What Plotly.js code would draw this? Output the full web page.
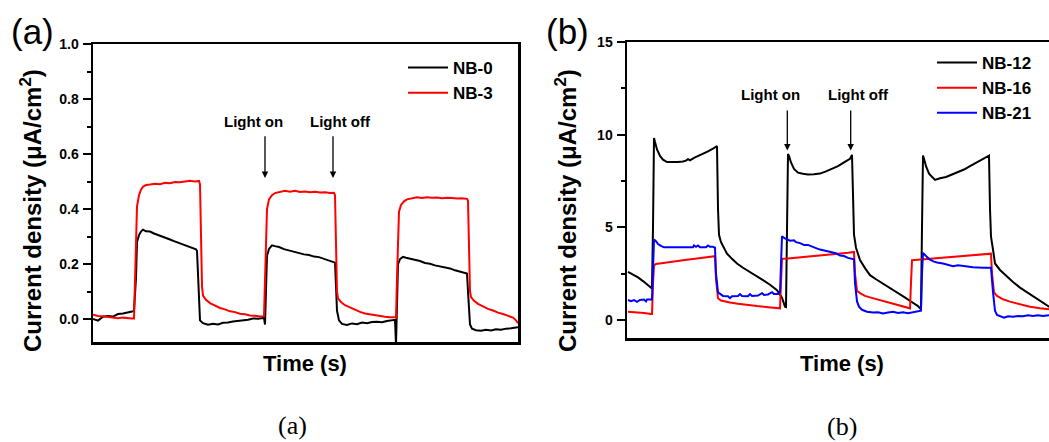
<!DOCTYPE html>
<html>
<head>
<meta charset="utf-8">
<script src="https://cdn.plot.ly/plotly-3.0.1.min.js"></script>
<style>
html, body { margin: 0; padding: 0; background: #fff; overflow: hidden; }
#chart { width: 1049px; height: 442px; }
</style>
</head>
<body>
<div id="chart"></div>
<script>
// ---------- Panel (a) data ----------
const nb0_t = [0,5,10,15,20,25,30,35,39,41,43,44,46,48,50,53,57,61,65,69,73,77,81,85,89,93,97,101,103,104,105,106,107,110,115,120,125,130,135,140,145,150,155,160,165,170,171,172,173,174,176,179,182,186,191,196,201,206,211,216,221,226,231,236,240,242,243,244,246,249,254,259,264,269,274,279,284,289,294,299,302,303,304,305,307,310,313,317,322,327,332,337,342,347,352,357,362,367,371,373,374,375,376,377,379,383,388,393,398,403,408,413,418,423,425];
const nb0_y = [0.000,-0.006,0.008,0.011,0.009,0.018,0.020,0.023,0.027,0.030,0.15,0.28,0.305,0.318,0.325,0.319,0.318,0.311,0.306,0.301,0.295,0.289,0.283,0.278,0.271,0.268,0.262,0.257,0.253,0.248,0.15,0.04,-0.005,-0.015,-0.021,-0.017,-0.020,-0.014,-0.013,-0.009,-0.007,-0.004,-0.003,0.002,0.001,0.004,0.004,-0.020,0.12,0.23,0.255,0.268,0.265,0.262,0.254,0.249,0.243,0.240,0.235,0.233,0.227,0.225,0.219,0.215,0.209,0.205,0.12,0.03,-0.005,-0.018,-0.022,-0.016,-0.019,-0.013,-0.015,-0.011,-0.010,-0.012,-0.007,-0.005,-0.003,-0.095,0.10,0.20,0.218,0.226,0.223,0.220,0.214,0.211,0.204,0.201,0.195,0.192,0.187,0.184,0.177,0.173,0.168,0.166,0.165,0.10,0.02,-0.020,-0.035,-0.041,-0.043,-0.039,-0.042,-0.037,-0.039,-0.035,-0.034,-0.031,-0.030];

const nb3_t = [0,5,10,15,20,25,30,35,39,41,42,43,44,46,48,50,53,57,62,67,72,77,82,87,92,97,102,106,107,108,109,110,113,117,122,127,132,137,142,147,152,157,162,167,171,172,173,174,176,179,182,187,192,197,202,207,212,217,222,227,232,237,241,242,243,244,245,248,252,257,262,267,272,277,282,287,292,297,302,303,304,305,306,308,311,314,319,324,329,334,339,344,349,354,359,364,369,374,375,376,377,378,381,385,390,395,400,405,410,415,420,423,425];
const nb3_y = [0.016,0.011,0.010,0.007,0.006,0.003,0.005,0.002,0.002,0.002,0.15,0.33,0.41,0.45,0.470,0.481,0.487,0.489,0.492,0.490,0.495,0.494,0.498,0.497,0.501,0.503,0.500,0.502,0.49,0.30,0.12,0.085,0.070,0.058,0.049,0.040,0.035,0.028,0.025,0.019,0.017,0.013,0.012,0.009,0.010,0.15,0.32,0.40,0.435,0.450,0.458,0.463,0.466,0.463,0.466,0.462,0.464,0.461,0.463,0.460,0.461,0.458,0.459,0.45,0.25,0.10,0.075,0.062,0.050,0.041,0.032,0.026,0.020,0.017,0.012,0.010,0.008,0.006,0.007,0.006,0.15,0.32,0.39,0.415,0.428,0.435,0.440,0.443,0.440,0.443,0.441,0.442,0.439,0.441,0.440,0.438,0.439,0.437,0.43,0.25,0.10,0.080,0.066,0.055,0.046,0.037,0.031,0.023,0.018,0.011,0.005,-0.005,-0.015];

// ---------- Panel (b) data ----------
const nb12_t = [0,5,10,15,20,24,25,26,27,29,32,35,39,45,50,55,58,60,62,66,70,75,80,85,88,89,90,91,93,96,99,104,109,115,122,128,135,142,149,154,157,158,159,160,161,163,166,170,175,180,186,192,198,204,210,216,222,224,225,226,228,232,237,242,248,255,262,269,276,283,290,292,293,294,295,296,298,301,304,307,312,318,324,330,336,342,348,354,360,361,362,363,365,367,372,379,385,392,399,405,409,415,421,425];
const nb12_y = [2.60,2.45,2.30,2.10,1.90,1.70,5.0,9.82,9.6,9.2,8.85,8.65,8.52,8.50,8.52,8.55,8.60,8.68,8.62,8.75,8.85,8.95,9.10,9.25,9.35,9.38,6.0,4.6,4.2,3.85,3.58,3.30,3.05,2.82,2.60,2.40,2.15,1.90,1.61,1.20,0.72,0.70,5.0,8.96,8.85,8.5,8.15,7.95,7.89,7.85,7.86,7.90,8.02,8.15,8.30,8.50,8.70,8.91,6.0,4.6,3.9,3.23,2.80,2.42,2.20,1.97,1.75,1.50,1.25,1.00,0.75,0.63,0.62,5.0,8.87,8.7,8.3,7.9,7.7,7.56,7.65,7.72,7.85,7.97,8.12,8.30,8.47,8.65,8.85,8.87,6.0,4.5,3.8,3.05,2.70,2.33,2.05,1.75,1.50,1.28,1.16,0.95,0.72,0.62];

const nb16_t = [0,8,16,23,24,25,26,28,35,45,55,65,75,85,87,88,90,93,98,102,110,120,129,140,152,153,154,160,170,180,190,200,210,220,226,227,229,232,237,242,250,262,272,282,283,284,290,300,310,320,330,340,350,360,363,364,366,369,375,382,392,402,412,421,425];
const nb16_y = [0.45,0.42,0.38,0.32,0.32,2.0,2.95,3.02,3.08,3.15,3.22,3.29,3.35,3.42,3.44,2.2,1.17,1.05,0.98,0.95,0.88,0.80,0.75,0.69,0.63,2.0,3.30,3.32,3.38,3.42,3.47,3.52,3.58,3.63,3.67,2.5,1.58,1.45,1.30,1.22,1.10,0.90,0.78,0.63,2.0,3.23,3.25,3.29,3.33,3.38,3.42,3.46,3.50,3.55,3.58,2.5,1.49,1.30,1.12,0.99,0.85,0.72,0.63,0.57,0.55];

const nb21_t = [0,3,6,9,12,16,18,19,24,25,26,28,30,33,36,45,60,65,66,68,70,72,78,80,82,85,87,88,90,92,95,100,102,104,110,112,114,120,122,124,130,134,136,140,144,146,150,152,153,154,157,160,162,166,168,172,176,180,184,188,192,196,200,204,208,212,216,220,224,226,227,229,231,234,239,245,250,255,260,265,270,275,280,285,290,293,294,295,298,302,306,309,315,320,325,330,335,345,355,363,365,367,369,373,376,380,385,390,395,400,405,410,415,421,425];
const nb21_y = [1.08,1.02,1.08,0.98,1.08,1.10,1.00,1.10,1.10,3.0,4.34,4.25,4.10,4.00,3.92,3.92,3.92,3.92,4.02,3.95,4.02,3.92,3.92,4.02,3.95,3.95,3.90,2.5,1.49,1.40,1.30,1.28,1.18,1.28,1.30,1.40,1.30,1.28,1.40,1.30,1.32,1.45,1.35,1.38,1.50,1.40,1.40,1.50,3.0,4.52,4.40,4.35,4.28,4.30,4.20,4.15,4.05,4.05,3.95,3.88,3.80,3.75,3.70,3.65,3.60,3.48,3.45,3.35,3.30,3.28,2.0,1.0,0.72,0.55,0.45,0.40,0.42,0.35,0.40,0.45,0.38,0.42,0.36,0.40,0.45,0.50,2.5,3.62,3.45,3.25,3.15,3.10,3.05,2.98,2.90,2.95,2.91,2.85,2.82,2.82,1.5,0.50,0.27,0.20,0.12,0.20,0.18,0.22,0.20,0.25,0.22,0.25,0.22,0.25,0.24];

const namesA = ['NB-0', 'NB-3'];
const namesB = ['NB-12', 'NB-16', 'NB-21'];
const ticksA = [0, 0.2, 0.4, 0.6, 0.8, 1.0];
const tickTextA = ['0.0', '0.2', '0.4', '0.6', '0.8', '1.0'];
const ticksB = [0, 5, 10, 15];
const tickTextB = ['0', '5', '10', '15'];
const yTitle = 'Current density (μA/cm<sup>2</sup>)';
const xTitle = 'Time (s)';

// ---------- styling ----------
const W = 1049, H = 442;
const sans = 'Liberation Sans, Arial, sans-serif';
const serif = 'Liberation Serif, Times New Roman, serif';
const px2x = p => p / W;
const px2y = p => (H - p) / H;
const bold = arr => arr.map(s => '<b>' + s + '</b>');

const traces = [
  {x: nb0_t, y: nb0_y, name: namesA[0], xaxis: 'x', yaxis: 'y', legend: 'legend', mode: 'lines', line: {color: '#000000', width: 2}},
  {x: nb3_t, y: nb3_y, name: namesA[1], xaxis: 'x', yaxis: 'y', legend: 'legend', mode: 'lines', line: {color: '#ff0000', width: 2}},
  {x: nb12_t, y: nb12_y, name: namesB[0], xaxis: 'x2', yaxis: 'y2', legend: 'legend2', mode: 'lines', line: {color: '#000000', width: 2}},
  {x: nb16_t, y: nb16_y, name: namesB[1], xaxis: 'x2', yaxis: 'y2', legend: 'legend2', mode: 'lines', line: {color: '#ff0000', width: 2}},
  {x: nb21_t, y: nb21_y, name: namesB[2], xaxis: 'x2', yaxis: 'y2', legend: 'legend2', mode: 'lines', line: {color: '#0000ff', width: 2}}
];

const tickFont = {family: sans, size: 14, color: '#000'};
const commonX = {showline: true, linewidth: 2.5, linecolor: '#000', mirror: true, ticks: '', showticklabels: false, showgrid: false, zeroline: false, fixedrange: true};
const commonY = {showline: true, linewidth: 2.5, linecolor: '#000', ticks: 'outside', ticklen: 8, tickwidth: 2, tickcolor: '#000', showgrid: false, zeroline: false, tickfont: tickFont, ticklabelstandoff: 1};
const legendFont = {family: sans, size: 17, color: '#000', weight: 'bold'};
const annFont = {family: sans, size: 15, color: '#000', weight: 'bold'};

const layout = {
  width: W, height: H,
  margin: {l: 0, r: 0, t: 0, b: 0},
  paper_bgcolor: '#fff', plot_bgcolor: '#fff',
  showlegend: true,
  xaxis: Object.assign({}, commonX, {domain: [px2x(93), px2x(518)], range: [0, 425], anchor: 'y'}),
  yaxis: Object.assign({}, commonY, {domain: [px2y(342), px2y(44)], range: [-0.0836, 1.0], mirror: true, anchor: 'x',
    tickvals: ticksA, ticktext: bold(tickTextA),
    minor: {dtick: 0.1, tick0: 0, ticks: 'outside', ticklen: 4, tickwidth: 2, tickcolor: '#000', showgrid: false}}),
  xaxis2: Object.assign({}, commonX, {domain: [px2x(627), 1], range: [-1, 421], anchor: 'y2'}),
  yaxis2: Object.assign({}, commonY, {domain: [px2y(338), px2y(42)], range: [-0.971, 15], mirror: false, anchor: 'x2',
    tickvals: ticksB, ticktext: bold(tickTextB),
    minor: {dtick: 2.5, tick0: 0, ticks: 'outside', ticklen: 4, tickwidth: 2, tickcolor: '#000', showgrid: false}}),
  legend: {x: px2x(403), y: px2y(50), xanchor: 'left', yanchor: 'top', bgcolor: 'rgba(0,0,0,0)', borderwidth: 0,
    font: legendFont, tracegroupgap: 0, itemwidth: 40},
  legend2: {x: px2x(932), y: px2y(45), xanchor: 'left', yanchor: 'top', bgcolor: 'rgba(0,0,0,0)', borderwidth: 0,
    font: legendFont, tracegroupgap: 0, itemwidth: 40},
  annotations: [
    // axis titles
    {xref: 'paper', yref: 'paper', x: px2x(31), y: px2y(211), text: yTitle, textangle: -90, showarrow: false,
      xanchor: 'center', yanchor: 'middle', font: {family: sans, size: 24, color: '#000', weight: 'bold'}},
    {xref: 'paper', yref: 'paper', x: px2x(566), y: px2y(211), text: yTitle, textangle: -90, showarrow: false,
      xanchor: 'center', yanchor: 'middle', font: {family: sans, size: 24, color: '#000', weight: 'bold'}},
    {xref: 'paper', yref: 'paper', x: px2x(305), y: px2y(363), text: xTitle, showarrow: false,
      xanchor: 'center', yanchor: 'middle', font: {family: sans, size: 22, color: '#000', weight: 'bold'}},
    {xref: 'paper', yref: 'paper', x: px2x(842), y: px2y(363), text: xTitle, showarrow: false,
      xanchor: 'center', yanchor: 'middle', font: {family: sans, size: 22, color: '#000', weight: 'bold'}},
    // panel labels
    {xref: 'paper', yref: 'paper', x: px2x(32), y: px2y(32), text: '(a)', showarrow: false,
      xanchor: 'center', yanchor: 'middle', font: {family: sans, size: 35, color: '#000'}},
    {xref: 'paper', yref: 'paper', x: px2x(567), y: px2y(32), text: '(b)', showarrow: false,
      xanchor: 'center', yanchor: 'middle', font: {family: sans, size: 35, color: '#000'}},
    // captions
    {xref: 'paper', yref: 'paper', x: px2x(292), y: px2y(425), text: '(a)', showarrow: false,
      xanchor: 'center', yanchor: 'middle', font: {family: serif, size: 26, color: '#000'}},
    {xref: 'paper', yref: 'paper', x: px2x(842), y: px2y(426), text: '(b)', showarrow: false,
      xanchor: 'center', yanchor: 'middle', font: {family: serif, size: 26, color: '#000'}},
    // light on/off labels (a)
    {xref: 'x', yref: 'y', x: 160, y: 0.717, text: 'Light on', showarrow: false, xanchor: 'center', yanchor: 'middle', font: annFont},
    {xref: 'x', yref: 'y', x: 247, y: 0.717, text: 'Light off', showarrow: false, xanchor: 'center', yanchor: 'middle', font: annFont},
    {xref: 'x', yref: 'y', axref: 'x', ayref: 'y', x: 172, y: 0.513, ax: 172, ay: 0.670, text: '', showarrow: true,
      arrowhead: 2, arrowsize: 1, arrowwidth: 1.3, arrowcolor: '#000'},
    {xref: 'x', yref: 'y', axref: 'x', ayref: 'y', x: 240, y: 0.513, ax: 240, ay: 0.670, text: '', showarrow: true,
      arrowhead: 2, arrowsize: 1, arrowwidth: 1.3, arrowcolor: '#000'},
    // light on/off labels (b)
    {xref: 'x2', yref: 'y2', x: 142.5, y: 12.15, text: 'Light on', showarrow: false, xanchor: 'center', yanchor: 'middle', font: annFont},
    {xref: 'x2', yref: 'y2', x: 230, y: 12.15, text: 'Light off', showarrow: false, xanchor: 'center', yanchor: 'middle', font: annFont},
    {xref: 'x2', yref: 'y2', axref: 'x2', ayref: 'y2', x: 159.3, y: 9.14, ax: 159.3, ay: 11.38, text: '', showarrow: true,
      arrowhead: 2, arrowsize: 1, arrowwidth: 1.3, arrowcolor: '#000'},
    {xref: 'x2', yref: 'y2', axref: 'x2', ayref: 'y2', x: 222.7, y: 9.14, ax: 222.7, ay: 11.38, text: '', showarrow: true,
      arrowhead: 2, arrowsize: 1, arrowwidth: 1.3, arrowcolor: '#000'}
  ]
};

Plotly.newPlot('chart', traces, layout, {displayModeBar: false, staticPlot: true});
</script>
</body>
</html>
